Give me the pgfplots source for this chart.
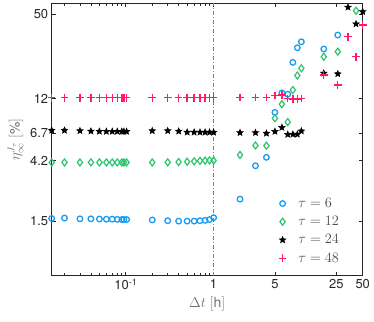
\documentclass[border=0pt]{standalone}
\usepackage{fontspec}
\setmainfont{TeX Gyre Heros}
\usepackage{pgfplots}
\pgfplotsset{compat=1.18}
\usetikzlibrary{calc}

\definecolor{c6}{HTML}{1A9CF0}
\definecolor{c12}{HTML}{2BC46E}
\definecolor{c48}{HTML}{FF1A6E}
\definecolor{axgray}{HTML}{262626}
\definecolor{labgray}{HTML}{707070}

% filled five-point star (MATLAB pentagram look)
\pgfdeclareplotmark{pstar}{%
  \pgfpathmoveto{\pgfpointpolar{90}{\pgfplotmarksize}}%
  \pgfpathlineto{\pgfpointpolar{126}{0.45\pgfplotmarksize}}%
  \pgfpathlineto{\pgfpointpolar{162}{\pgfplotmarksize}}%
  \pgfpathlineto{\pgfpointpolar{198}{0.45\pgfplotmarksize}}%
  \pgfpathlineto{\pgfpointpolar{234}{\pgfplotmarksize}}%
  \pgfpathlineto{\pgfpointpolar{270}{0.45\pgfplotmarksize}}%
  \pgfpathlineto{\pgfpointpolar{306}{\pgfplotmarksize}}%
  \pgfpathlineto{\pgfpointpolar{342}{0.45\pgfplotmarksize}}%
  \pgfpathlineto{\pgfpointpolar{18}{\pgfplotmarksize}}%
  \pgfpathlineto{\pgfpointpolar{54}{0.45\pgfplotmarksize}}%
  \pgfpathclose
  \pgfusepathqfillstroke
}

\begin{document}
\begin{tikzpicture}
\begin{axis}[
  scale only axis, width=311bp, height=272.4bp,
  xmode=log, ymode=log,
  xmin=0.0143, xmax=50, ymin=0.6, ymax=60,
  xtick={0.1,1,5,25,50},
  xticklabels={10\textsuperscript{-1},1,5,25,50},
  minor xtick={0.02,0.03,0.04,0.05,0.06,0.07,0.08,0.09,0.2,0.3,0.4,0.5,0.6,0.7,0.8,0.9},
  ytick={1.5,4.2,6.7,12,50},
  yticklabels={1.5,4.2,6.7,12,50},
  tick align=inside,
  major tick length=4bp, minor tick length=2.5bp,
  axis line style={axgray, line width=1.1bp},
  every tick/.style={axgray, line width=0.8bp},
  ticklabel style={font=\fontsize{13}{15}\selectfont, text=axgray},
  xlabel={$\Delta t\ [\mathrm{h}]$},
  ylabel={$\eta^{J_\tau}_{\infty}\ [\%]$},
  label style={font=\fontsize{14}{16}\selectfont, text=labgray},
  legend style={at={(rel axis cs:0.72,0.30)}, anchor=north west,
    draw=none, fill=none, font=\fontsize{14}{16}\selectfont, text=black!70,
    row sep=3.5bp, /tikz/every odd column/.append style={column sep=10bp}},
  legend cell align=left,
]
\addplot[forget plot, gray, line width=0.6bp, dash pattern=on 4bp off 2bp on 1bp off 2bp]
  coordinates {(1,0.6) (1,60)};

% tau = 6
\addplot[only marks, mark=o, mark size=2.8bp, c6, line width=1.3bp] table {
x y
0.0143 1.58
0.02 1.59
0.03 1.57
0.04 1.57
0.05 1.565
0.06 1.56
0.07 1.56
0.08 1.555
0.09 1.55
0.095 1.55
0.102 1.55
0.2 1.54
0.3 1.52
0.4 1.51
0.5 1.51
0.6 1.51
0.7 1.52
0.8 1.53
0.9 1.55
1 1.6
2 2.19
3 3.85
4 4.44
5 9.5
6 13.2
7 12.9
8 22.1
9 28.3
10 31.3
18 27.7
26 35.1
};
% tau = 12
\addplot[only marks, mark=diamond, mark size=3.5bp, c12, line width=1.2bp] table {
x y
0.0143 4.07
0.02 4.07
0.03 4.07
0.04 4.07
0.05 4.07
0.06 4.07
0.07 4.07
0.08 4.07
0.09 4.07
0.095 4.07
0.102 4.07
0.2 4.07
0.3 4.08
0.4 4.1
0.5 4.12
0.6 4.15
0.7 4.18
0.8 4.2
0.9 4.22
1 4.2
2 4.62
3 5.42
4 5.4
5 8.59
6 10.9
7 8.06
8 13.85
9 17.7
10 20.0
18 24.3
26 26.5
42 52.9
};
% tau = 24
\addplot[only marks, mark=pstar, mark size=3.3bp, black, line width=0.6bp] table {
x y
0.0143 7.0
0.02 7.0
0.03 6.95
0.04 6.9
0.05 6.88
0.06 6.87
0.07 6.87
0.08 6.87
0.09 6.87
0.095 6.87
0.102 6.87
0.2 6.95
0.3 6.95
0.4 6.9
0.5 6.78
0.6 6.78
0.7 6.78
0.8 6.78
0.9 6.78
1 6.77
2 6.73
3 6.73
4 6.66
5 6.87
6 7.35
7 6.53
8 6.55
9 6.55
10 6.92
18 18.4
26 18.2
34 56.1
42 42.3
50 52.0
};
% tau = 48
\addplot[only marks, mark=+, mark size=3.8bp, c48, line width=1.4bp] table {
x y
0.0143 12.15
0.02 12.15
0.03 12.15
0.04 12.15
0.05 12.15
0.06 12.15
0.07 12.15
0.08 12.15
0.09 12.15
0.095 12.15
0.102 12.15
0.2 12.15
0.3 12.15
0.4 12.15
0.5 12.15
0.6 12.15
0.7 12.15
0.8 12.15
0.9 12.15
1 12.15
2 12.2
3 12.2
4 12.2
5 12.6
6 12.7
7 12.0
8 11.9
9 11.9
10 12.0
18 17.85
26 15.07
34 34.1
42 24.3
50 41.6
};
\legend{$\tau=6$, $\tau=12$, $\tau=24$, $\tau=48$}
\coordinate (sw) at (rel axis cs:0,0);
\coordinate (ne) at (rel axis cs:1,1);
\end{axis}
\pgfresetboundingbox
\path[use as bounding box] ($(sw)+(-51.7bp,-46.3bp)$) rectangle ($(ne)+(11.3bp,3.3bp)$);
\end{tikzpicture}
\end{document}
